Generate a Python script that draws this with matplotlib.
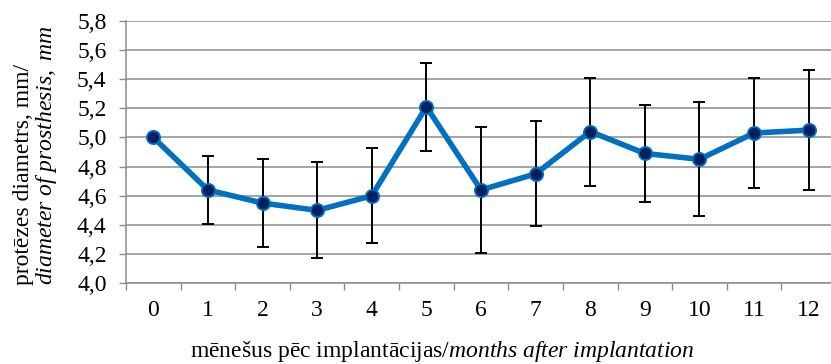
import matplotlib
matplotlib.use("Agg")
import matplotlib.pyplot as plt
import numpy as np

months = list(range(13))
means = [5.00, 4.64, 4.55, 4.50, 4.60, 5.21, 4.64, 4.75, 5.04, 4.89, 4.85, 5.03, 5.05]
errs = [0.0, 0.235, 0.30, 0.33, 0.325, 0.30, 0.43, 0.36, 0.37, 0.33, 0.39, 0.38, 0.41]
yticks = [4.0, 4.2, 4.4, 4.6, 4.8, 5.0, 5.2, 5.4, 5.6, 5.8]

plt.rcParams['font.family'] = 'Liberation Serif'
plt.rcParams['mathtext.fontset'] = 'custom'
plt.rcParams['mathtext.rm'] = 'Liberation Serif'
plt.rcParams['mathtext.it'] = 'Liberation Serif:italic'

FS = 17
fig = plt.figure(figsize=(8.31, 3.64), dpi=100)
ax = fig.add_axes([126/831, 1-283.3/364, (836-126)/831, (283.3-20.7)/364])

grid_c = '#8c8c8c'
x = np.array(months)
e = np.array(errs)
mask = e > 0
ax.errorbar(x[mask], np.array(means)[mask], yerr=e[mask], fmt='none', ecolor='black',
            elinewidth=1.4, capsize=4, capthick=1.4, zorder=3)
ax.plot(x, means, color='#0070C0', lw=4, marker='o', markersize=9.5,
        markerfacecolor='#002060', markeredgecolor='#0070C0', markeredgewidth=1.3, zorder=4)

ax.set_xlim(-0.5, 12.5)
ax.set_ylim(4.0, 5.8)
ax.set_yticks(yticks)
ax.set_yticklabels([f"{v:.1f}".replace('.', ',') for v in yticks], fontsize=FS)
ax.set_xticks(months)
ax.set_xticklabels([str(m) for m in months], fontsize=FS)
ax.set_xticks(np.arange(-0.5, 13, 1), minor=True)
ax.tick_params(axis='x', which='major', length=0, pad=12)
ax.tick_params(axis='x', which='minor', length=5, color=grid_c, width=1)
ax.tick_params(axis='y', length=5, color=grid_c, width=1, pad=9)
ax.yaxis.grid(True, color=grid_c, lw=1.1)
ax.set_axisbelow(True)
for s in ['top', 'right']:
    ax.spines[s].set_visible(False)
for s in ['left', 'bottom']:
    ax.spines[s].set_color(grid_c)
    ax.spines[s].set_linewidth(1.1)

fig.text(442/831, 1-352/364, r"mēnešus pēc implantācijas/$\mathit{months\ after\ implantation}$",
         ha='center', va='center', fontsize=FS)
fig.text(36/831, 1-155/364, "protēzes diametrs, mm/\n" + r"$\mathit{diameter\ of\ prosthesis,\ mm}$",
         ha='center', va='center', rotation=90, fontsize=FS, linespacing=0.95,
         multialignment='left')

fig.savefig('out.png', dpi=100)
